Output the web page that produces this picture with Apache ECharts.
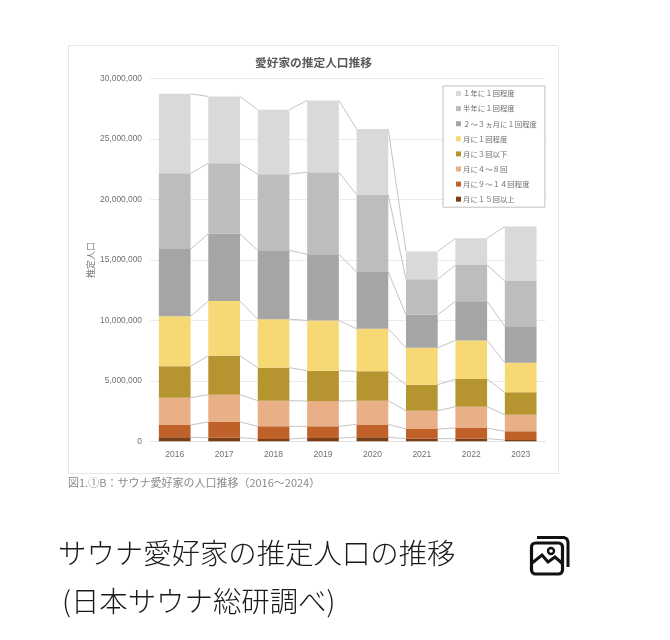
<!DOCTYPE html>
<html><head><meta charset="utf-8">
<style>html,body{margin:0;padding:0;background:#fff}#c{width:670px;height:640px}</style>
<script src="https://cdn.jsdelivr.net/npm/echarts@6/dist/echarts.min.js"></script>
</head><body><div id="c"></div>
<script>
const categories=['2016','2017','2018','2019','2020','2021','2022','2023'];
const over15=[330000,300000,190000,270000,330000,220000,220000,100000];
const m9to14=[1020000,1300000,1050000,970000,1070000,800000,880000,730000];
const m4to8=[2250000,2260000,2120000,2090000,1960000,1510000,1760000,1370000];
const m3under=[2600000,3220000,2730000,2510000,2430000,2150000,2290000,1850000];
const m1=[4140000,4520000,4010000,4160000,3520000,3060000,3200000,2450000];
const q2to3=[5560000,5570000,5700000,5470000,4690000,2730000,3230000,3010000];
const half1=[6270000,5830000,6300000,6800000,6400000,2930000,3000000,3750000];
const year1=[6580000,5530000,5330000,5930000,5430000,2300000,2220000,4520000];

const names=['月に１５回以上','月に９～１４回程度','月に４～８回','月に３回以下','月に１回程度','２～３ヵ月に１回程度','半年に１回程度','１年に１回程度'];
const values=[over15,m9to14,m4to8,m3under,m1,q2to3,half1,year1];
const colors=['#7A3E17','#BF6128','#E9AF86','#B69430','#F6D875','#A5A5A5','#BDBDBD','#D9D9D9'];
const BAR=31.7;

const running=categories.map(()=>0);
const connectors=values.map(v=>{
  v.forEach((x,i)=>running[i]+=x);
  const cum=running.slice();
  return {type:'custom',coordinateSystem:'cartesian2d',silent:true,z:1,
    data:categories.slice(0,-1).map((c,i)=>[i,cum[i],cum[i+1]]),
    renderItem:(p,api)=>{
      const a=api.coord([api.value(0),api.value(1)]);
      const b=api.coord([api.value(0)+1,api.value(2)]);
      return {type:'line',shape:{x1:a[0]+BAR/2,y1:a[1],x2:b[0]-BAR/2,y2:b[1]},style:{stroke:'#C4C4C4',lineWidth:1}};
    }};
});
const bars=values.map((v,i)=>({name:names[i],type:'bar',stack:'a',barWidth:BAR,z:3,data:v,itemStyle:{color:colors[i]},animation:false}));

const CJK='"Noto Sans CJK JP","Noto Sans",sans-serif';
const chart=echarts.init(document.getElementById('c'),null,{renderer:'canvas'});
chart.setOption({
  animation:false,
  textStyle:{fontFamily:CJK},
  title:[
    {text:'愛好家の推定人口推移',left:255,top:57,padding:0,textStyle:{fontSize:11.7,fontWeight:'bold',color:'#595959',fontFamily:CJK}},
    {text:'図1.①B：サウナ愛好家の人口推移（2016～2024）',left:68,top:477,padding:0,textStyle:{fontSize:11,fontWeight:'normal',color:'#8a8a8a',fontFamily:CJK}},
    {text:'サウナ愛好家の推定人口の推移',left:58,top:539,padding:0,textStyle:{fontSize:28.4,fontWeight:300,color:'#1a1a1a',fontFamily:CJK}},
    {text:'(日本サウナ総研調べ)',left:62,top:587,padding:0,textStyle:{fontSize:28.4,fontWeight:300,color:'#1a1a1a',fontFamily:CJK}}
  ],
  legend:{
    data:names.slice().reverse(),orient:'vertical',left:443,top:86,
    itemWidth:5,itemHeight:5,itemGap:5.1,padding:[2.5,8,3,13],
    icon:'rect',backgroundColor:'#fff',borderColor:'#BFBFBF',borderWidth:1,
    textStyle:{fontSize:7.4,color:'#6f6f6f',padding:[0,0,0,-3],height:10,lineHeight:10},z:10
  },
  grid:{left:150,right:124.6,top:78.7,height:362.6,containLabel:false},
  xAxis:{type:'category',data:categories,axisTick:{show:false},
    axisLine:{lineStyle:{color:'#E2E2E2'}},
    axisLabel:{fontSize:8.5,color:'#707070',margin:9,fontFamily:'"Liberation Sans",sans-serif'}},
  yAxis:{type:'value',min:0,max:30000000,interval:5000000,
    name:'推定人口',nameLocation:'middle',nameGap:55,nameRotate:90,nameMoveOverlap:false,
    nameTextStyle:{fontSize:9,color:'#777'},
    axisLine:{show:false},axisTick:{show:false},
    splitLine:{lineStyle:{color:'#EBEBEB',width:1}},
    axisLabel:{fontSize:8.4,color:'#707070',margin:8,fontFamily:'"Liberation Sans",sans-serif',
      formatter:v=>v.toLocaleString('en-US')}},
  graphic:[
    {type:'rect',z:-1,shape:{x:68.5,y:45.5,width:490,height:428},style:{fill:'#fff',stroke:'#E6E6E6',lineWidth:1}},
    {type:'polyline',z:5,shape:{points:[[537,537.5],[564,537.5],[567,539],[568,542],[568,567]]},style:{fill:'none',stroke:'#111',lineWidth:3}},
    {type:'rect',z:5,shape:{x:531.5,y:543,width:31,height:31,r:4},style:{fill:'#fff',stroke:'#111',lineWidth:3.2}},
    {type:'polyline',z:6,shape:{points:[[532,563],[542,555],[548,562],[555,557],[563,564]]},style:{fill:'none',stroke:'#111',lineWidth:3}},
    {type:'circle',z:6,shape:{cx:551,cy:551,r:3},style:{fill:'none',stroke:'#111',lineWidth:2.4}}
  ],
  series:[...connectors,...bars]
});
</script></body></html>
